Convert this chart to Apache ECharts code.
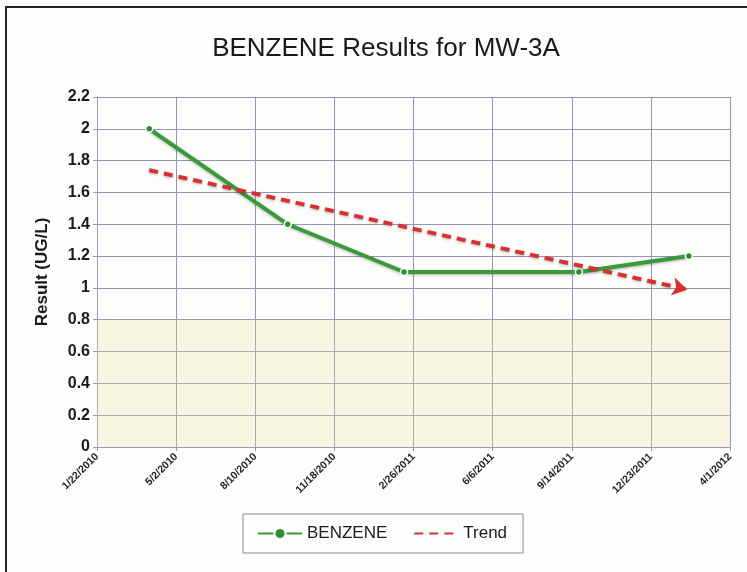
<!DOCTYPE html>
<html>
<head>
<meta charset="utf-8">
<script src="https://cdn.jsdelivr.net/npm/echarts@6/dist/echarts.min.js"></script>
<style>html,body{margin:0;padding:0;background:#fdfdfb;}#c{width:747px;height:572px;}</style>
</head>
<body>
<div id="c"></div>
<script>
// ---- data ----
var axisStart = '2010-01-22';
var tickStepDays = 100;
var tickCount = 8;
var benzeneDates = ['2010-03-29', '2010-09-20', '2011-02-14', '2011-09-23', '2012-02-09'];
var benzeneValues = [2.0, 1.4, 1.1, 1.1, 1.2];
var trendDates = ['2010-03-29', '2012-02-07'];
var trendValues = [1.74, 0.99];
var highlightRange = [0, 0.8];

function toDays(s) {
  return Math.round((Date.parse(s + 'T00:00:00Z') - Date.parse(axisStart + 'T00:00:00Z')) / 86400000);
}
function fmtDay(d) {
  var t = new Date(Date.parse(axisStart + 'T00:00:00Z') + d * 86400000);
  return (t.getUTCMonth() + 1) + '/' + t.getUTCDate() + '/' + t.getUTCFullYear();
}

var chart = echarts.init(document.getElementById('c'), null, {renderer: 'canvas'});
var benzeneData = benzeneDates.map(function (d, i) { return [toDays(d), benzeneValues[i]]; });
var trendData = trendDates.map(function (d, i) {
  var item = {value: [toDays(d), trendValues[i]]};
  if (i === trendDates.length - 1) { item.symbol = 'arrow'; item.symbolSize = [14, 15]; item.symbolRotate = -102; }
  return item;
});
var FONT = 'Liberation Sans, Arial, sans-serif';

chart.setOption({
  backgroundColor: '#fdfdfb',
  animation: false,
  title: {
    text: 'BENZENE Results for MW-3A',
    left: 381, top: 31, textAlign: 'center',
    textStyle: {fontFamily: FONT, fontSize: 26, fontWeight: 'normal', color: '#1a1a1a'}
  },
  graphic: [{
    type: 'polyline', silent: true,
    shape: {points: [[6, 572], [6, 7], [747, 7]]},
    style: {stroke: '#222', lineWidth: 2, fill: null}
  }],
  grid: {left: 97, right: 17, top: 97, bottom: 125},
  legend: {
    left: 243, top: 514, width: 279, height: 42,
    itemGap: 26, padding: [11, 16, 11, 14],
    borderColor: '#888', borderWidth: 1,
    itemWidth: 44, itemHeight: 14,
    textStyle: {fontFamily: FONT, fontSize: 17, color: '#1a1a1a'},
    data: ['BENZENE', {name: 'Trend', itemStyle: {opacity: 0}}]
  },
  xAxis: {
    type: 'value', min: 0, max: tickStepDays * tickCount, interval: tickStepDays,
    axisLine: {show: true, lineStyle: {color: '#9a9ab8'}},
    axisTick: {show: true, length: 4, lineStyle: {color: '#9a9ab8'}},
    splitLine: {show: true, lineStyle: {color: '#9494bb', width: 1}},
    axisLabel: {
      rotate: 45, fontSize: 10.5, fontWeight: 'bold', color: '#222', margin: 8,
      fontFamily: FONT,
      formatter: function (v) { return fmtDay(v); }
    }
  },
  yAxis: {
    type: 'value', min: 0, max: 2.2, interval: 0.2,
    name: 'Result (UG/L)', nameLocation: 'middle', nameGap: 46, nameRotate: 90,
    nameTextStyle: {fontFamily: FONT, fontSize: 17, fontWeight: 'bold', color: '#1a1a1a'},
    axisLine: {show: true, lineStyle: {color: '#9a9ab8'}},
    axisTick: {show: true, length: 4, lineStyle: {color: '#9a9ab8'}},
    splitLine: {show: true, lineStyle: {color: '#9494bb', width: 1}},
    axisLabel: {
      fontSize: 16, fontWeight: 'bold', color: '#1a1a1a', margin: 7,
      fontFamily: FONT,
      formatter: function (v) { return String(Math.round(v * 10) / 10); }
    }
  },
  series: [{
    name: 'BENZENE', type: 'line', data: benzeneData,
    symbol: 'circle', symbolSize: 7, showAllSymbol: true,
    lineStyle: {color: '#3a9a3a', width: 4, shadowColor: 'rgba(0,0,0,0.3)', shadowBlur: 3, shadowOffsetY: 1},
    itemStyle: {color: '#2f8f2f', borderColor: '#ffffff', borderWidth: 1.5},
    markArea: {
      silent: true,
      itemStyle: {color: 'rgba(236,226,160,0.28)'},
      data: [[{yAxis: highlightRange[0]}, {yAxis: highlightRange[1]}]]
    },
    z: 3
  }, {
    name: 'Trend', type: 'line', data: trendData,
    symbol: 'none',
    lineStyle: {color: '#d73030', width: 4, type: [9, 6], shadowColor: 'rgba(0,0,0,0.3)', shadowBlur: 3, shadowOffsetY: 1},
    itemStyle: {color: '#d73030'},
    z: 4
  }]
});
</script>
</body>
</html>
